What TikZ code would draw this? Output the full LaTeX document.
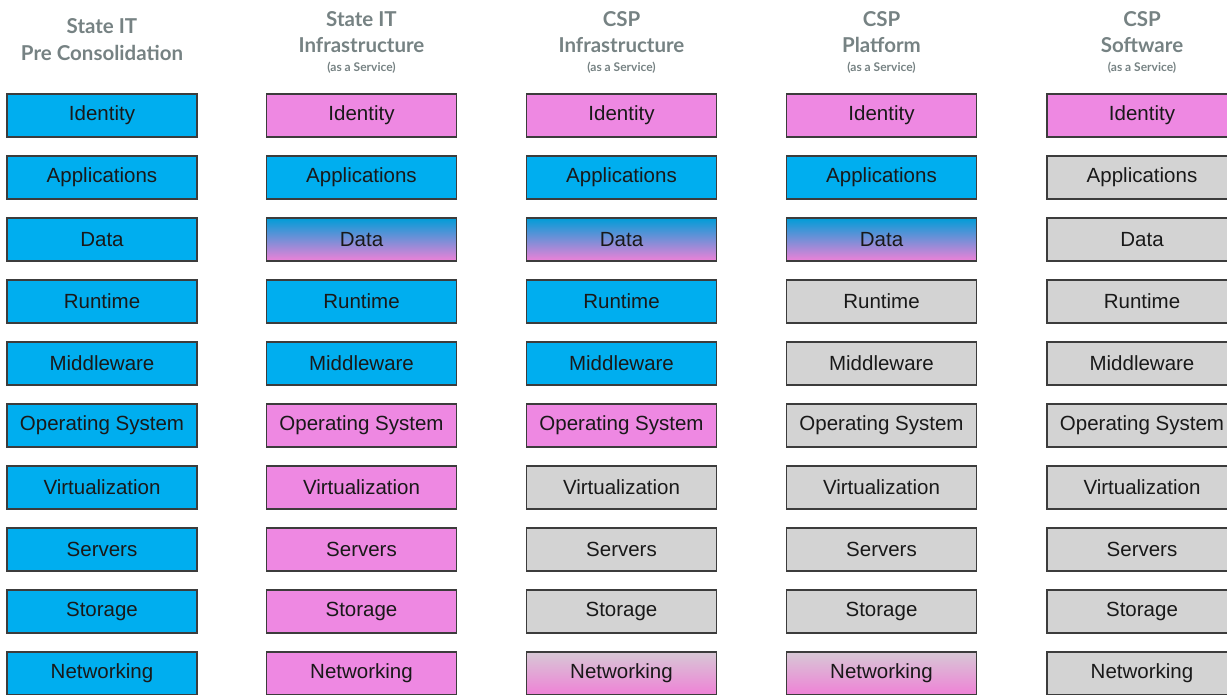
\documentclass[tikz,border=0pt]{standalone}
\usepackage{fontspec}
\setmainfont{Liberation Sans}
\newfontfamily\headfont{Lato}
\definecolor{boxblue}{RGB}{0,174,239}
\definecolor{boxpink}{RGB}{238,136,226}
\definecolor{boxgray}{RGB}{211,211,211}
\definecolor{headgray}{RGB}{118,130,131}
\definecolor{edgegray}{RGB}{60,60,60}
\tikzset{
  layer/.style={draw=edgegray,line width=1.2pt,minimum width=190pt,minimum height=43pt,
    inner sep=0pt,font=\fontsize{20.5}{24}\selectfont,text=black!90},
  bluebox/.style={layer,fill=boxblue},
  pinkbox/.style={layer,fill=boxpink},
  graybox/.style={layer,fill=boxgray},
  databox/.style={layer,top color=boxblue!90!black,bottom color=boxpink!95!red},
  netbox/.style={layer,top color=boxgray!85!boxpink,bottom color=boxpink!95!red},
  head/.style={anchor=base,text=headgray,font=\headfont\bfseries\fontsize{20.5}{22}\selectfont},
  subhead/.style={anchor=base,text=headgray,font=\headfont\bfseries\fontsize{12}{13}\selectfont}
}
\begin{document}
\begin{tikzpicture}[x=1pt,y=-1pt]
\useasboundingbox (0,0) rectangle (1227,694);
\clip (0,0) rectangle (1227,694);

% Column headings
\node[head] (h1a) at (102,33) {State IT};
\node[head] (h1b) at (102,60) {Pre Consolidation};
\node[head] (h2a) at (361.5,26) {State IT};
\node[head] (h2b) at (361.5,52) {Infrastructure};
\node[subhead] (h2c) at (361.5,71) {(as a Service)};
\node[head] (h3a) at (621.5,26) {CSP};
\node[head] (h3b) at (621.5,52) {Infrastructure};
\node[subhead] (h3c) at (621.5,71) {(as a Service)};
\node[head] (h4a) at (881.5,26) {CSP};
\node[head] (h4b) at (881.5,52) {Platform};
\node[subhead] (h4c) at (881.5,71) {(as a Service)};
\node[head] (h5a) at (1142,26) {CSP};
\node[head] (h5b) at (1142,52) {Software};
\node[subhead] (h5c) at (1142,71) {(as a Service)};

% Pre consolidation
\foreach \lab/\sty [count=\r] in {Identity/bluebox,Applications/bluebox,Data/bluebox,
  Runtime/bluebox,Middleware/bluebox,Operating System/bluebox,Virtualization/bluebox,
  Servers/bluebox,Storage/bluebox,Networking/bluebox}
  \node[\sty] (c1-\r) at (102,{115.5+62*(\r-1)}) {\lab};

% State IT IaaS
\foreach \lab/\sty [count=\r] in {Identity/pinkbox,Applications/bluebox,Data/databox,
  Runtime/bluebox,Middleware/bluebox,Operating System/pinkbox,Virtualization/pinkbox,
  Servers/pinkbox,Storage/pinkbox,Networking/pinkbox}
  \node[\sty] (c2-\r) at (361.5,{115.5+62*(\r-1)}) {\lab};

% CSP IaaS
\foreach \lab/\sty [count=\r] in {Identity/pinkbox,Applications/bluebox,Data/databox,
  Runtime/bluebox,Middleware/bluebox,Operating System/pinkbox,Virtualization/graybox,
  Servers/graybox,Storage/graybox,Networking/netbox}
  \node[\sty] (c3-\r) at (621.5,{115.5+62*(\r-1)}) {\lab};

% CSP PaaS
\foreach \lab/\sty [count=\r] in {Identity/pinkbox,Applications/bluebox,Data/databox,
  Runtime/graybox,Middleware/graybox,Operating System/graybox,Virtualization/graybox,
  Servers/graybox,Storage/graybox,Networking/netbox}
  \node[\sty] (c4-\r) at (881.5,{115.5+62*(\r-1)}) {\lab};

% CSP SaaS
\foreach \lab/\sty [count=\r] in {Identity/pinkbox,Applications/graybox,Data/graybox,
  Runtime/graybox,Middleware/graybox,Operating System/graybox,Virtualization/graybox,
  Servers/graybox,Storage/graybox,Networking/graybox}
  \node[\sty] (c5-\r) at (1142,{115.5+62*(\r-1)}) {\lab};
\end{tikzpicture}
\end{document}
